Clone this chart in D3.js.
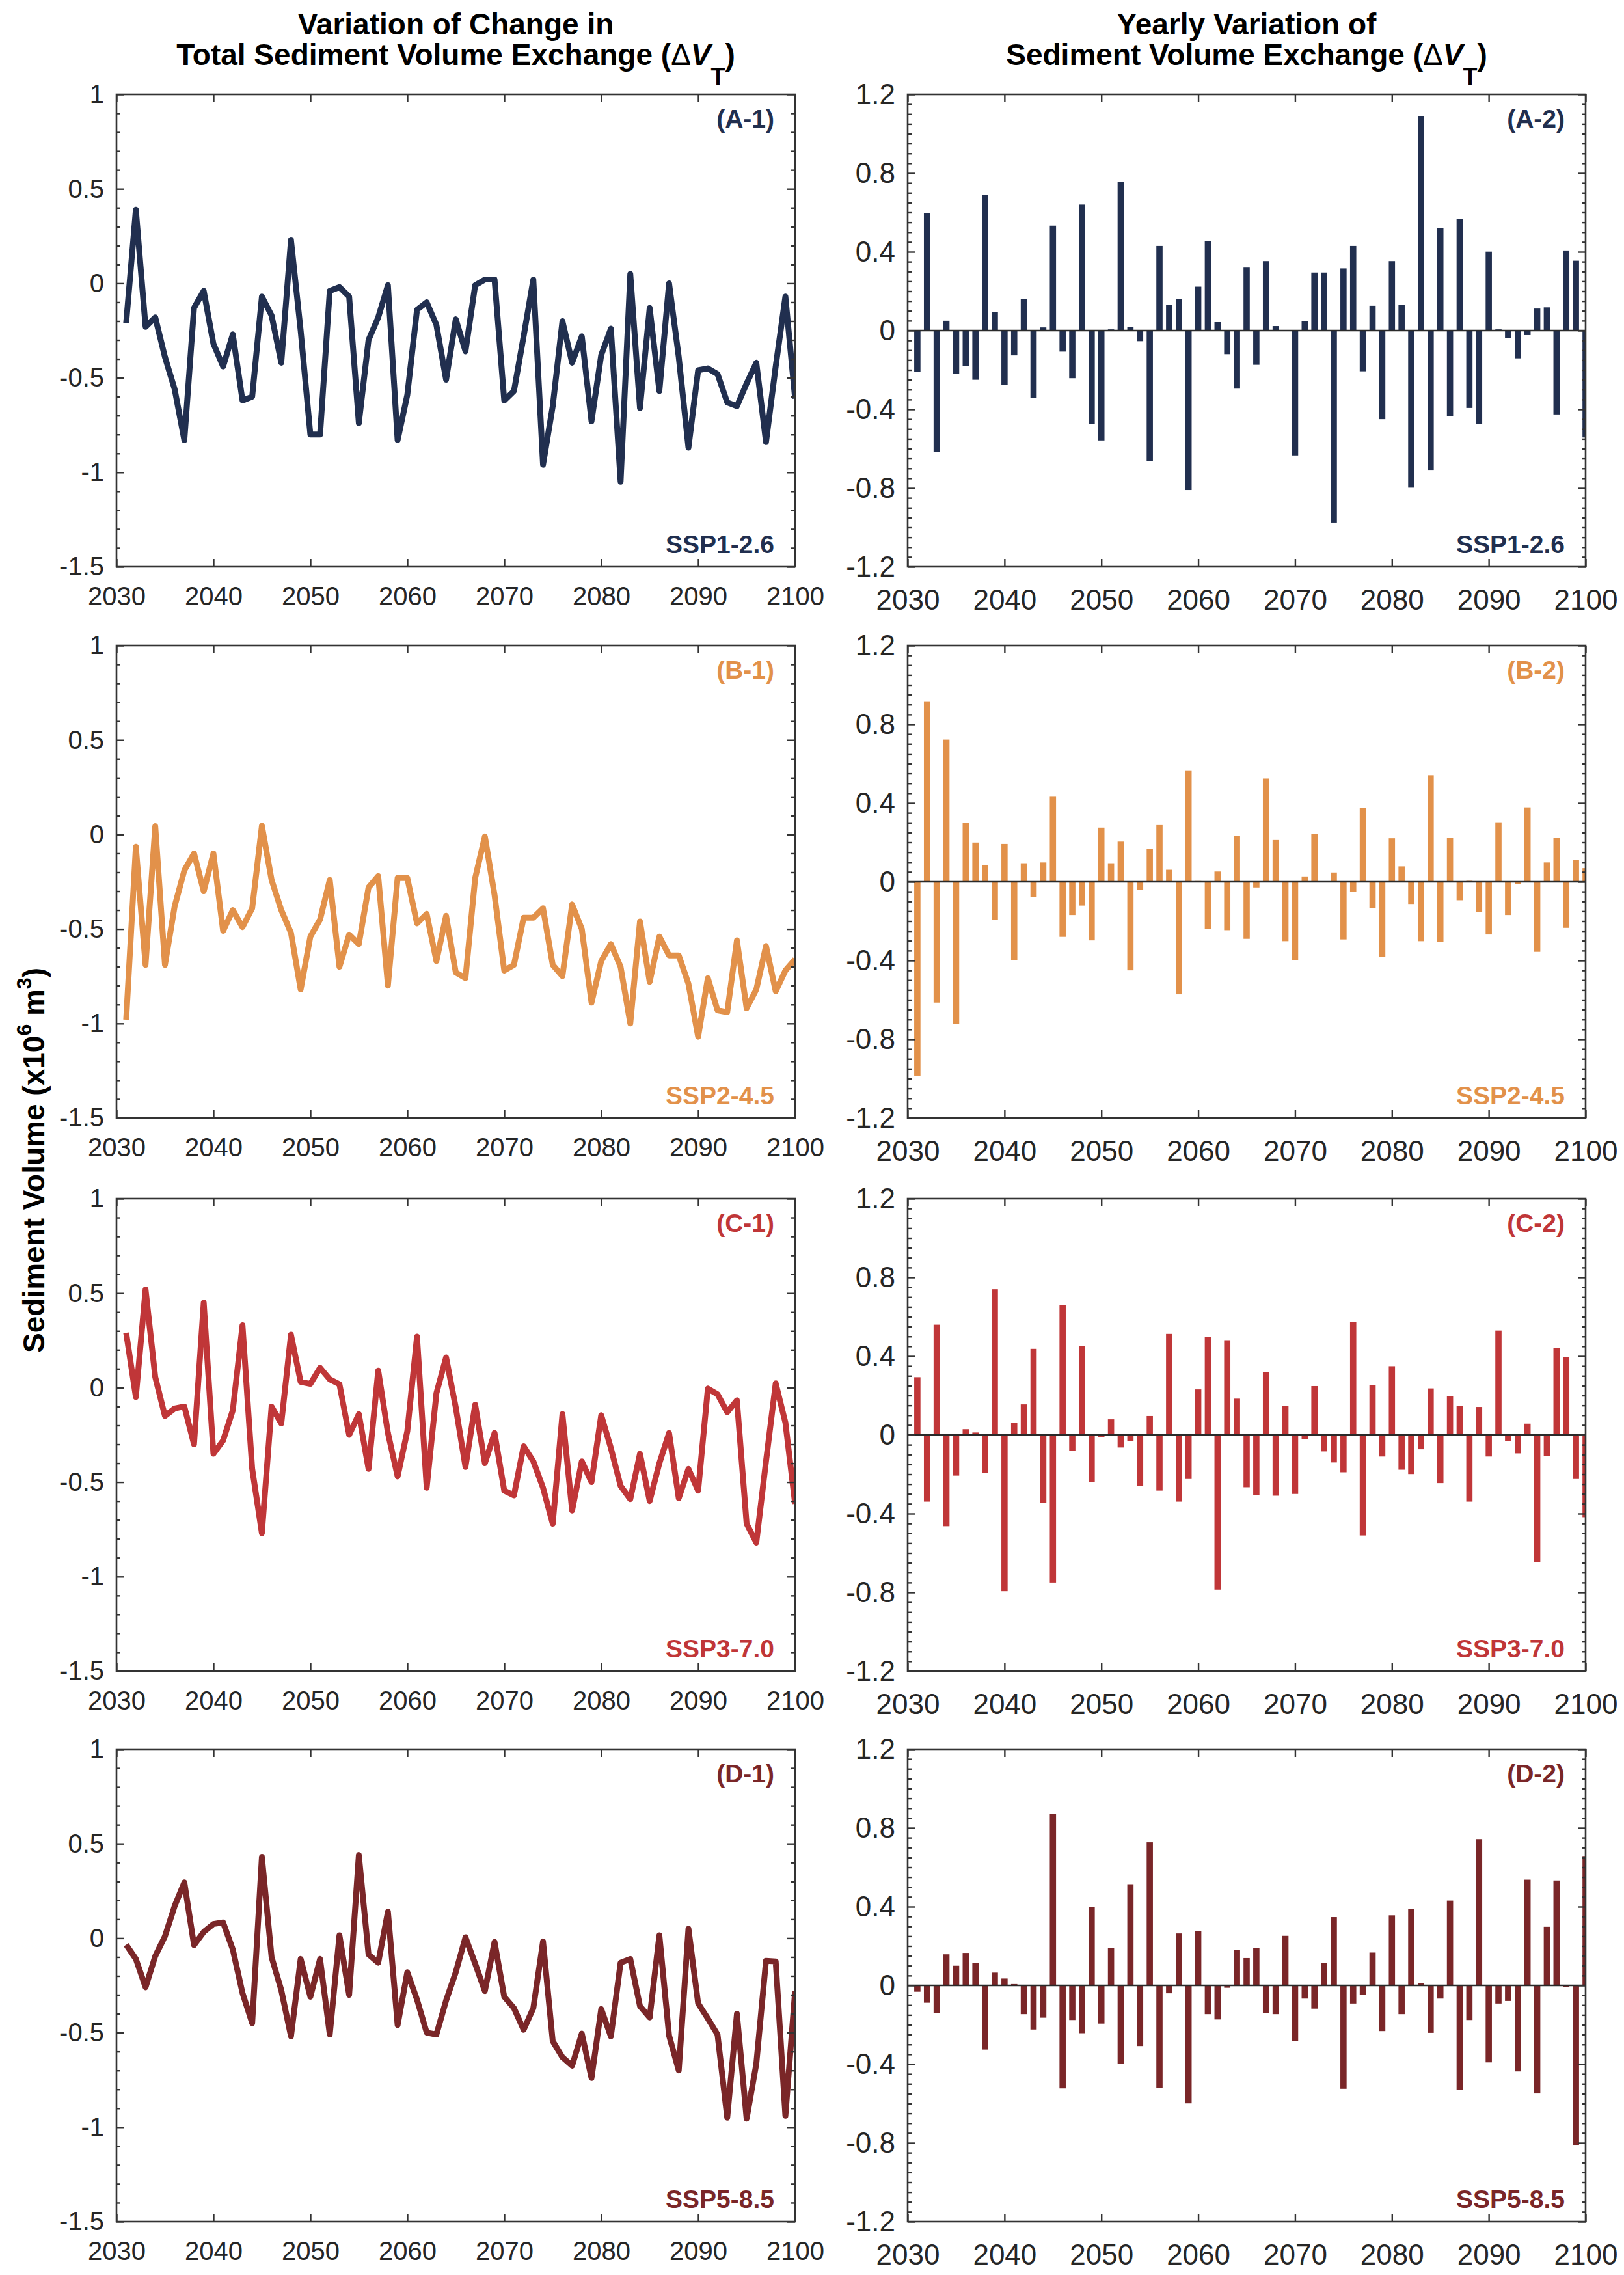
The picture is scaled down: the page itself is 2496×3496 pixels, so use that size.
<!DOCTYPE html>
<html>
<head>
<meta charset="utf-8">
<script src="https://cdn.jsdelivr.net/npm/d3@7/dist/d3.min.js"></script>
<style>
  html, body { margin: 0; padding: 0; background: #ffffff; }
  svg { display: block; }
  text { font-family: "Liberation Sans", Arial, Helvetica, sans-serif; }
</style>
</head>
<body>
<svg id="chart" width="2496" height="3496"></svg>
<script>
// ---------------- DATA ----------------
const years = [2031,2032,2033,2034,2035,2036,2037,2038,2039,2040,
  2041,2042,2043,2044,2045,2046,2047,2048,2049,2050,
  2051,2052,2053,2054,2055,2056,2057,2058,2059,2060,
  2061,2062,2063,2064,2065,2066,2067,2068,2069,2070,
  2071,2072,2073,2074,2075,2076,2077,2078,2079,2080,
  2081,2082,2083,2084,2085,2086,2087,2088,2089,2090,
  2091,2092,2093,2094,2095,2096,2097,2098,2099,2100];

const xTicks = [2030,2040,2050,2060,2070,2080,2090,2100];
const yTicksLeft = [-1.5,-1,-0.5,0,0.5,1];
const yTickLabelsLeft = ["-1.5","-1","-0.5","0","0.5","1"];
const yTicksRight = [-1.2,-0.8,-0.4,0,0.4,0.8,1.2];
const yTickLabelsRight = ["-1.2","-0.8","-0.4","0","0.4","0.8","1.2"];

const scenarios = ["SSP1-2.6","SSP2-4.5","SSP3-7.0","SSP5-8.5"];
const panelLetters = ["A","B","C","D"];
const scenarioColors = ["#212f4f","#e2914a","#c03638","#7a2628"];

// Change in total sediment volume exchange (line, x10^6 m^3)
const ssp126Total = [-0.21,0.39,-0.23,-0.18,-0.39,-0.56,-0.83,-0.13,-0.04,-0.32,
  -0.44,-0.27,-0.62,-0.60,-0.07,-0.17,-0.42,0.23,-0.25,-0.80,
  -0.80,-0.04,-0.02,-0.07,-0.74,-0.30,-0.18,-0.01,-0.83,-0.59,
  -0.14,-0.10,-0.22,-0.51,-0.19,-0.36,-0.01,0.02,0.02,-0.62,
  -0.57,-0.28,0.02,-0.96,-0.65,-0.20,-0.42,-0.28,-0.73,-0.38,
  -0.24,-1.05,0.05,-0.66,-0.13,-0.57,0.00,-0.39,-0.87,-0.46,
  -0.45,-0.48,-0.63,-0.65,-0.53,-0.42,-0.84,-0.44,-0.07,-0.61];

const ssp245Total = [-0.98,-0.065,-0.69,0.044,-0.69,-0.38,-0.19,-0.10,-0.30,-0.10,
  -0.51,-0.40,-0.49,-0.39,0.046,-0.24,-0.40,-0.52,-0.82,-0.54,
  -0.45,-0.24,-0.70,-0.53,-0.58,-0.28,-0.22,-0.80,-0.23,-0.23,
  -0.47,-0.42,-0.67,-0.43,-0.73,-0.76,-0.23,-0.01,-0.32,-0.72,
  -0.69,-0.44,-0.44,-0.39,-0.69,-0.75,-0.37,-0.50,-0.89,-0.67,
  -0.58,-0.70,-1.00,-0.46,-0.78,-0.54,-0.64,-0.64,-0.79,-1.07,
  -0.76,-0.93,-0.94,-0.56,-0.92,-0.82,-0.59,-0.83,-0.72,-0.66];

const ssp370Total = [0.29,-0.05,0.52,0.056,-0.15,-0.11,-0.10,-0.30,0.45,-0.35,
  -0.28,-0.12,0.33,-0.43,-0.77,-0.10,-0.19,0.28,0.03,0.02,
  0.105,0.044,0.018,-0.25,-0.14,-0.43,0.09,-0.24,-0.47,-0.23,
  0.27,-0.53,-0.03,0.16,-0.105,-0.42,-0.09,-0.40,-0.24,-0.545,
  -0.57,-0.31,-0.39,-0.53,-0.72,-0.14,-0.65,-0.39,-0.50,-0.146,
  -0.32,-0.52,-0.59,-0.35,-0.60,-0.40,-0.24,-0.585,-0.43,-0.545,
  -0.005,-0.035,-0.13,-0.067,-0.72,-0.82,-0.39,0.023,-0.185,-0.615];

const ssp585Total = [-0.035,-0.11,-0.26,-0.095,0.01,0.17,0.295,-0.037,0.033,0.075,
  0.083,-0.06,-0.29,-0.45,0.43,-0.10,-0.275,-0.52,-0.11,-0.31,
  -0.11,-0.51,0.015,-0.30,0.44,-0.086,-0.13,0.14,-0.46,-0.18,
  -0.325,-0.50,-0.51,-0.33,-0.18,0.005,-0.135,-0.28,-0.02,-0.31,
  -0.37,-0.485,-0.37,-0.017,-0.545,-0.63,-0.675,-0.505,-0.74,-0.375,
  -0.52,-0.13,-0.11,-0.36,-0.42,0.015,-0.515,-0.70,0.05,-0.345,
  -0.425,-0.51,-0.95,-0.40,-0.955,-0.665,-0.12,-0.123,-0.94,-0.28];

// Yearly variation of sediment volume exchange (bars, x10^6 m^3)
const ssp126Yearly = [-0.21,0.595,-0.615,0.05,-0.22,-0.18,-0.25,0.69,0.093,-0.275,
  -0.126,0.16,-0.343,0.016,0.533,-0.107,-0.242,0.64,-0.475,-0.558,
  0.006,0.754,0.019,-0.054,-0.663,0.43,0.13,0.16,-0.81,0.223,
  0.453,0.043,-0.12,-0.295,0.32,-0.174,0.353,0.023,0.002,-0.634,
  0.048,0.295,0.295,-0.975,0.316,0.43,-0.207,0.126,-0.45,0.353,
  0.132,-0.798,1.089,-0.711,0.519,-0.436,0.566,-0.393,-0.475,0.401,
  0.006,-0.037,-0.141,-0.023,0.112,0.118,-0.426,0.407,0.355,-0.543];

const ssp245Yearly = [-0.985,0.917,-0.614,0.722,-0.723,0.30,0.199,0.086,-0.192,0.192,
  -0.40,0.094,-0.079,0.098,0.435,-0.28,-0.169,-0.121,-0.298,0.275,
  0.094,0.204,-0.45,-0.04,0.167,0.288,0.061,-0.572,0.563,0.004,
  -0.24,0.052,-0.246,0.233,-0.29,-0.029,0.524,0.212,-0.302,-0.398,
  0.027,0.243,0.003,0.047,-0.293,-0.05,0.376,-0.133,-0.381,0.221,
  0.078,-0.113,-0.302,0.541,-0.307,0.224,-0.094,0.005,-0.155,-0.268,
  0.302,-0.169,-0.01,0.378,-0.356,0.098,0.224,-0.234,0.111,0.069];

const ssp370Yearly = [0.293,-0.339,0.56,-0.464,-0.207,0.029,0.012,-0.194,0.74,-0.794,
  0.062,0.155,0.437,-0.346,-0.75,0.661,-0.081,0.45,-0.241,-0.013,
  0.079,-0.064,-0.03,-0.261,0.096,-0.283,0.513,-0.339,-0.224,0.231,
  0.496,-0.786,0.481,0.184,-0.266,-0.305,0.32,-0.309,0.147,-0.30,
  -0.022,0.248,-0.084,-0.14,-0.19,0.572,-0.511,0.253,-0.11,0.349,
  -0.177,-0.199,-0.073,0.236,-0.245,0.196,0.147,-0.339,0.142,-0.11,
  0.53,-0.03,-0.094,0.057,-0.646,-0.106,0.442,0.395,-0.224,-0.418];

const ssp585Yearly = [-0.032,-0.088,-0.141,0.158,0.10,0.165,0.114,-0.326,0.065,0.035,
  0.007,-0.146,-0.224,-0.164,0.871,-0.523,-0.176,-0.243,0.40,-0.194,
  0.19,-0.40,0.514,-0.308,0.727,-0.519,-0.04,0.264,-0.599,0.275,
  -0.146,-0.173,-0.012,0.18,0.139,0.19,-0.141,-0.146,0.252,-0.282,
  -0.067,-0.118,0.114,0.347,-0.525,-0.092,-0.048,0.167,-0.232,0.356,
  -0.146,0.387,0.012,-0.241,-0.067,0.431,-0.532,-0.176,0.743,-0.391,
  -0.092,-0.079,-0.437,0.537,-0.549,0.298,0.533,-0.009,-0.81,0.657];

const totalSeries = [ssp126Total, ssp245Total, ssp370Total, ssp585Total];
const yearlySeries = [ssp126Yearly, ssp245Yearly, ssp370Yearly, ssp585Yearly];

// ---------------- LAYOUT ----------------
const svg = d3.select("#chart");
svg.append("rect").attr("width", 2496).attr("height", 3496).attr("fill", "#ffffff");

const leftX = [179, 1222];
const rightX = [1395, 2437];
const panelTops = [145, 992, 1842, 2688];
const panelH = 726;
const axisColor = "#333333";
const labelColor = "#262626";
const FONT = '"Liberation Sans", Arial, Helvetica, sans-serif';

function drawPanel(opts) {
  const { xr, top, yDomain, yTicks, yLabels, minorStep, fontSize, xPad, kind, values, color, tag, scen, idx } = opts;
  const x = d3.scaleLinear().domain([2030, 2100]).range(xr);
  const y = d3.scaleLinear().domain(yDomain).range([top + panelH, top]);
  const g = svg.append("g");

  const clipId = "clip-" + tag.replace(/[^A-Za-z0-9]/g, "");
  svg.append("clipPath").attr("id", clipId).append("rect")
    .attr("x", xr[0]).attr("y", top).attr("width", xr[1] - xr[0]).attr("height", panelH);

  const plot = g.append("g").attr("clip-path", "url(#" + clipId + ")");

  if (kind === "line") {
    const line = d3.line().x((d, i) => x(years[i])).y(d => y(d));
    plot.append("path").datum(values)
      .attr("d", line)
      .attr("fill", "none")
      .attr("stroke", color)
      .attr("stroke-width", 9)
      .attr("stroke-linejoin", "round")
      .attr("stroke-linecap", "butt");
  } else {
    const bw = 9.6;
    plot.selectAll("rect.bar").data(values).join("rect")
      .attr("class", "bar")
      .attr("x", (d, i) => x(years[i]) - bw / 2)
      .attr("width", bw)
      .attr("y", d => y(Math.max(0, d)))
      .attr("height", d => Math.abs(y(d) - y(0)))
      .attr("fill", color);
    plot.append("line")
      .attr("x1", xr[0]).attr("x2", xr[1])
      .attr("y1", y(0)).attr("y2", y(0))
      .attr("stroke", "#2a2a2a").attr("stroke-width", 2.4);
  }

  const minor = d3.range(yDomain[0], yDomain[1] + 1e-9, minorStep)
    .filter(v => !yTicks.some(t => Math.abs(t - v) < 1e-6));

  function styleAxis(sel) {
    sel.select(".domain").remove();
    sel.selectAll(".tick line").attr("stroke", axisColor).attr("stroke-width", 2.4);
    sel.selectAll(".tick text").attr("fill", labelColor)
      .style("font-family", FONT).style("font-size", fontSize + "px");
  }

  // bottom axis (labels)
  g.append("g").attr("transform", `translate(0,${top + panelH})`)
    .call(d3.axisBottom(x).tickValues(xTicks).tickFormat(d3.format("d")).tickSize(-12).tickPadding(xPad))
    .call(styleAxis);
  // top axis (ticks only)
  g.append("g").attr("transform", `translate(0,${top})`)
    .call(d3.axisTop(x).tickValues(xTicks).tickFormat("").tickSize(-12))
    .call(styleAxis);
  // left axis (labels)
  g.append("g").attr("transform", `translate(${xr[0]},0)`)
    .call(d3.axisLeft(y).tickValues(yTicks).tickFormat((d, i) => yLabels[i]).tickSize(-12).tickPadding(19))
    .call(styleAxis);
  g.append("g").attr("transform", `translate(${xr[0]},0)`)
    .call(d3.axisLeft(y).tickValues(minor).tickFormat("").tickSize(-6))
    .call(styleAxis);
  // right axis (ticks only)
  g.append("g").attr("transform", `translate(${xr[1]},0)`)
    .call(d3.axisRight(y).tickValues(yTicks).tickFormat("").tickSize(-12))
    .call(styleAxis);
  g.append("g").attr("transform", `translate(${xr[1]},0)`)
    .call(d3.axisRight(y).tickValues(minor).tickFormat("").tickSize(-6))
    .call(styleAxis);

  // frame
  g.append("rect")
    .attr("x", xr[0]).attr("y", top)
    .attr("width", xr[1] - xr[0]).attr("height", panelH)
    .attr("fill", "none").attr("stroke", axisColor).attr("stroke-width", 2.6);

  // panel tag and scenario name
  g.append("text")
    .attr("x", xr[1] - 32).attr("y", top + 51)
    .attr("text-anchor", "end")
    .attr("fill", color)
    .style("font-weight", "bold").style("font-size", "39px")
    .text("(" + tag + ")");
  g.append("text")
    .attr("x", xr[1] - 32).attr("y", top + panelH - 21)
    .attr("text-anchor", "end")
    .attr("fill", color)
    .style("font-weight", "bold").style("font-size", "39px")
    .text(scen);
}

for (let i = 0; i < 4; i++) {
  drawPanel({
    xr: leftX, top: panelTops[i], yDomain: [-1.5, 1],
    yTicks: yTicksLeft, yLabels: yTickLabelsLeft, minorStep: 0.1,
    fontSize: 40, xPad: 31, kind: "line", values: totalSeries[i],
    color: scenarioColors[i], tag: panelLetters[i] + "-1", scen: scenarios[i], idx: i
  });
  drawPanel({
    xr: rightX, top: panelTops[i], yDomain: [-1.2, 1.2],
    yTicks: yTicksRight, yLabels: yTickLabelsRight, minorStep: 0.05,
    fontSize: 44, xPad: 35, kind: "bar", values: yearlySeries[i],
    color: scenarioColors[i], tag: panelLetters[i] + "-2", scen: scenarios[i], idx: i
  });
}

// ---------------- TITLES ----------------
function titleBlock(cx, line1, line2start) {
  const t1 = svg.append("text")
    .attr("x", cx).attr("y", 53).attr("text-anchor", "middle")
    .attr("fill", "#000").style("font-weight", "bold").style("font-size", "46px")
    .text(line1);
  const t2 = svg.append("text")
    .attr("x", cx).attr("y", 100).attr("text-anchor", "middle")
    .attr("fill", "#000").style("font-weight", "bold").style("font-size", "46px");
  t2.append("tspan").text(line2start + "(");
  t2.append("tspan").style("font-weight", "normal").text("\u0394");
  t2.append("tspan").style("font-style", "italic").text("V");
  t2.append("tspan").attr("dy", 30).style("font-size", "36px").text("T");
  t2.append("tspan").attr("dy", -30).text(")");
}
titleBlock((leftX[0] + leftX[1]) / 2, "Variation of Change in", "Total Sediment Volume Exchange ");
titleBlock((rightX[0] + rightX[1]) / 2, "Yearly Variation of", "Sediment Volume Exchange ");

// y-axis label
const yl = svg.append("text")
  .attr("transform", "translate(68,1783) rotate(-90)")
  .attr("text-anchor", "middle")
  .attr("fill", "#000").style("font-weight", "bold").style("font-size", "46px");
yl.append("tspan").text("Sediment Volume (x10");
yl.append("tspan").attr("dy", -20).style("font-size", "32px").text("6");
yl.append("tspan").attr("dy", 20).text(" m");
yl.append("tspan").attr("dy", -20).style("font-size", "32px").text("3");
yl.append("tspan").attr("dy", 20).text(")");
</script>
</body>
</html>
